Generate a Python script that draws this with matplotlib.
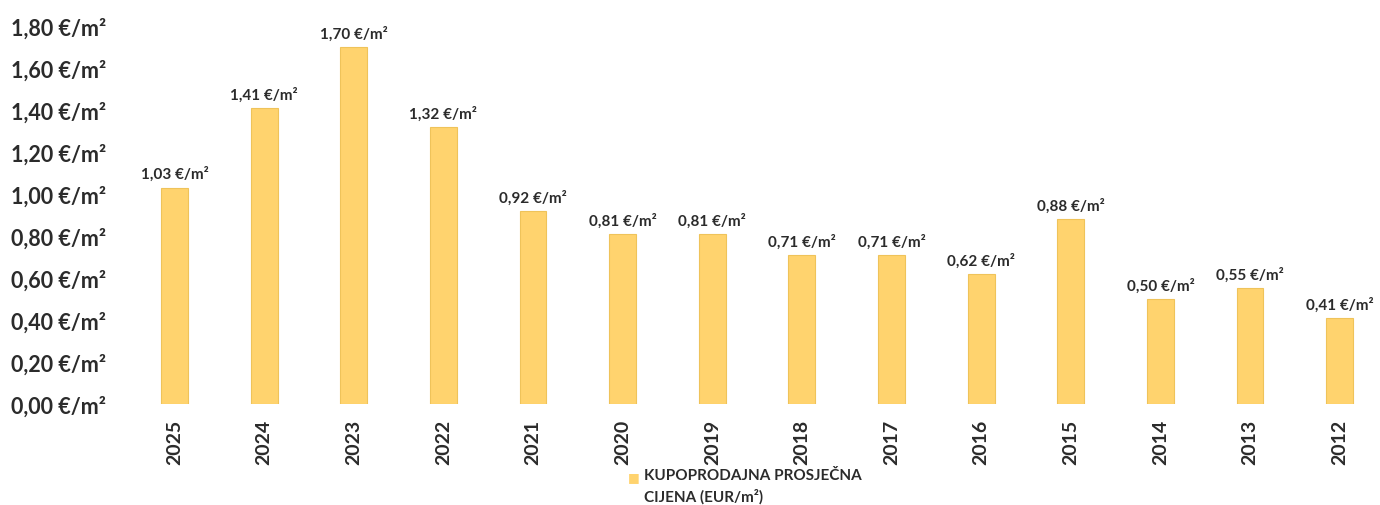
import matplotlib.pyplot as plt
from matplotlib.ticker import FuncFormatter

# Data
years = ['2025', '2024', '2023', '2022', '2021', '2020', '2019', '2018',
         '2017', '2016', '2015', '2014', '2013', '2012']
prices = [1.03, 1.41, 1.70, 1.32, 0.92, 0.81, 0.81, 0.71,
          0.71, 0.62, 0.88, 0.50, 0.55, 0.41]
yticks = [0.0, 0.2, 0.4, 0.6, 0.8, 1.0, 1.2, 1.4, 1.6, 1.8]
legend_label = 'KUPOPRODAJNA PROSJEČNA\nCIJENA (EUR/m²)'

plt.rcParams['font.family'] = ['Lato', 'DejaVu Sans']
text_color = '#2b2b2b'
bar_color = '#FFD36E'

fig = plt.figure(figsize=(13.8, 5.06), dpi=100)
ax = fig.add_axes([0.094, 0.20, 0.906, 0.747])

x = range(len(years))
bars = ax.bar(x, prices, width=0.30, color=bar_color, edgecolor='#EFC35A',
              linewidth=0.8)

# Value labels
for xi, v in zip(x, prices):
    ax.text(xi, v + 0.03, f'{v:.2f}'.replace('.', ',') + ' €/m²',
            ha='center', va='bottom', fontsize=11, fontweight='bold',
            color=text_color)

ax.set_ylim(0, 1.8)
ax.set_xlim(-0.5, 13.45)
ax.set_yticks(yticks)
ax.yaxis.set_major_formatter(FuncFormatter(
    lambda v, p: f'{v:.2f}'.replace('.', ',') + ' €/m²'))
ax.set_xticks(list(x))
ax.set_xticklabels(years, rotation=90)

ax.tick_params(axis='y', length=0, pad=17, labelsize=15.5, labelcolor=text_color)
ax.tick_params(axis='x', length=0, pad=11, labelsize=14, labelcolor=text_color)
for lab in ax.get_yticklabels() + ax.get_xticklabels():
    lab.set_fontweight('bold')

for s in ax.spines.values():
    s.set_visible(False)

# Legend below
fig.text(0.459, 0.057, '■', fontsize=9, color=bar_color, ha='center',
         va='center', family=['DejaVu Sans'])
fig.text(0.467, 0.038, legend_label, fontsize=11, fontweight='bold',
         color=text_color, ha='left', va='center', linespacing=1.5)

fig.savefig('out.png', dpi=100)
